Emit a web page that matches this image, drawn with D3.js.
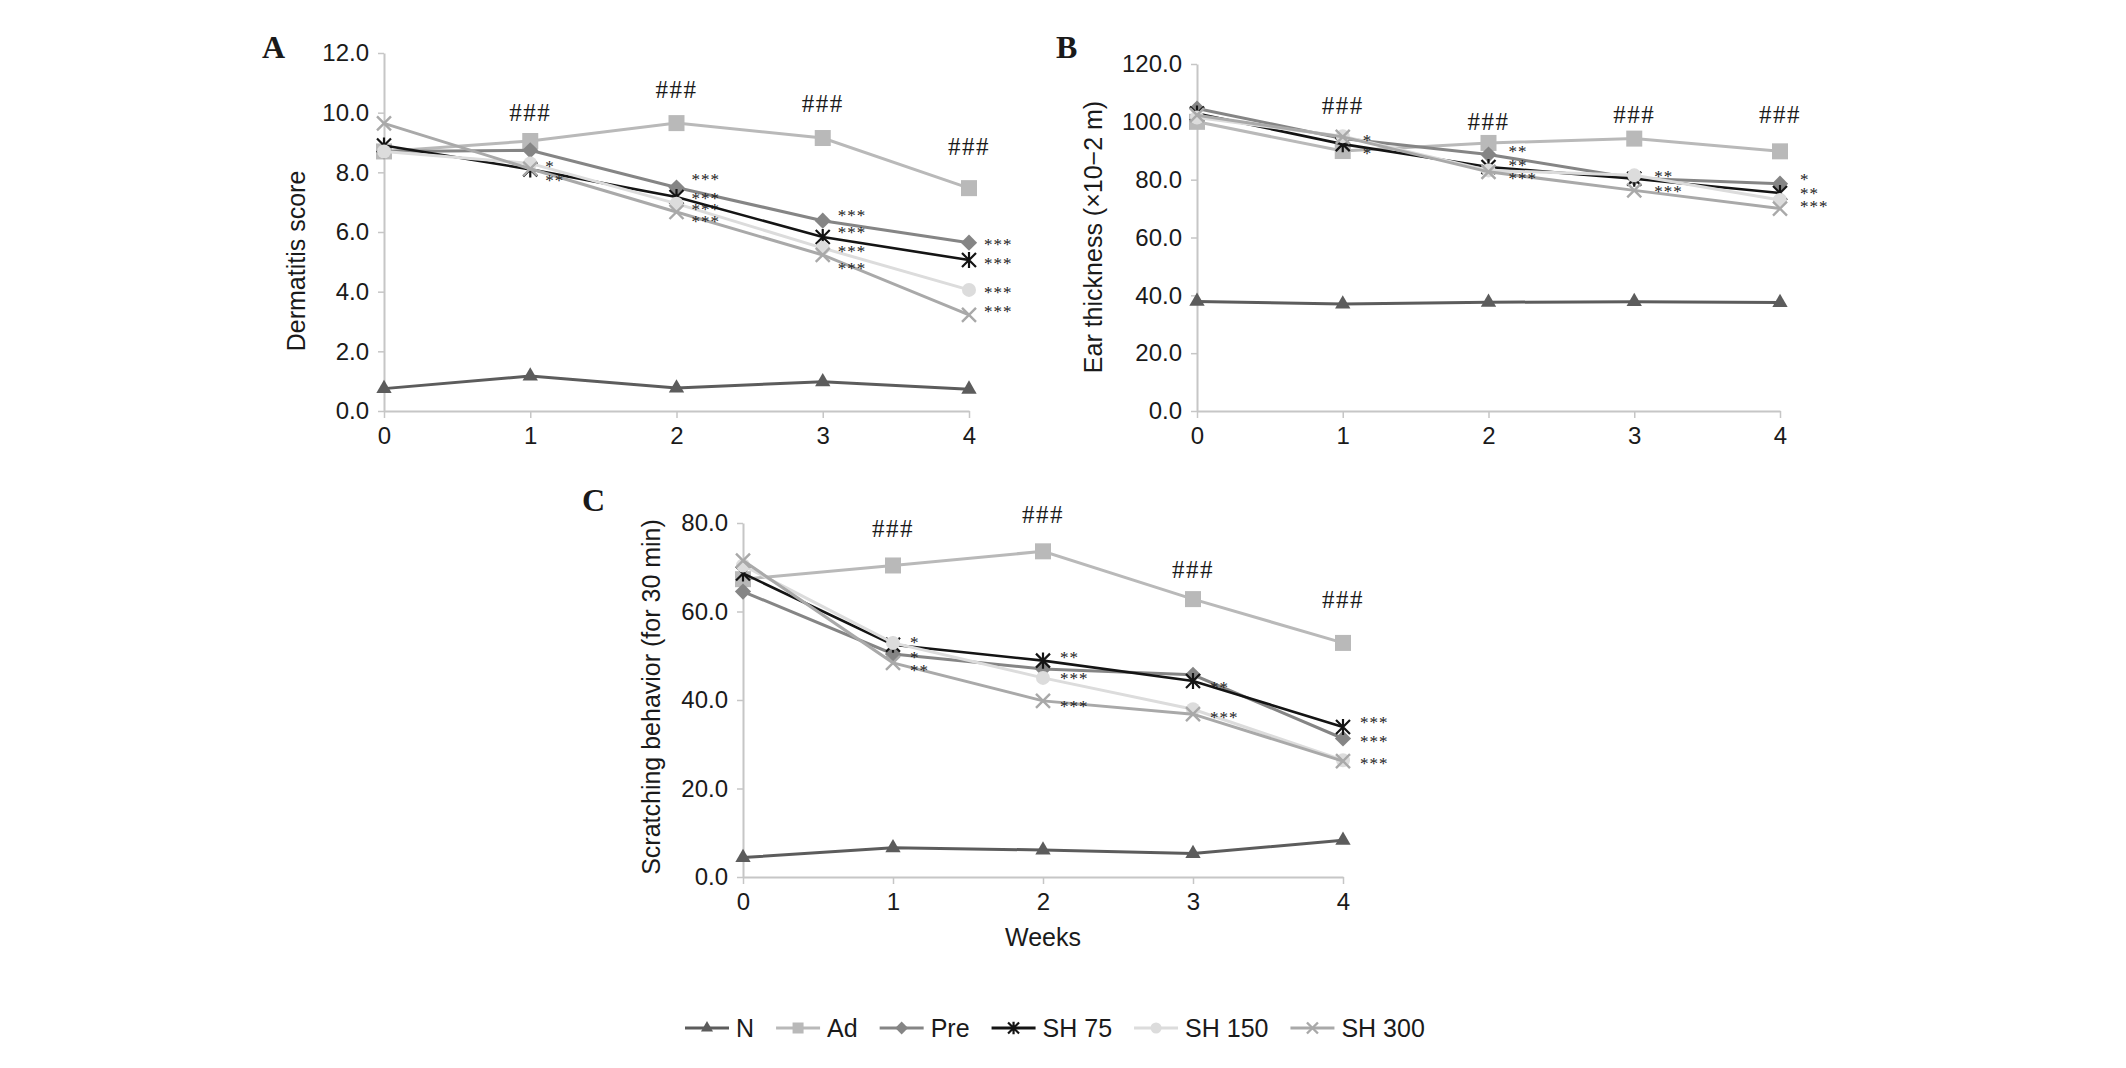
<!DOCTYPE html>
<html>
<head>
<meta charset="utf-8">
<script src="https://cdn.jsdelivr.net/npm/d3@7"></script>
<style>
  body { margin: 0; background: #fff; }
  text { fill: #1a1a1a; }
</style>
</head>
<body>
<div id="chart"></div>
<script>
// Weeks on the x axis and the six groups
var weeks  = [0, 1, 2, 3, 4];
var groups = ["N", "Ad", "Pre", "SH 75", "SH 150", "SH 300"];

// A - dermatitis score, one row per group
var dermatitis = [
    [0.75, 1.17, 0.77, 0.98, 0.73],
    [8.70, 9.05, 9.65, 9.15, 7.47],
    [8.70, 8.74, 7.49, 6.38, 5.64],
    [8.90, 8.10, 7.17, 5.83, 5.06],
    [8.70, 8.30, 6.95, 5.46, 4.06],
    [9.64, 8.12, 6.67, 5.23, 3.22]
];
// B - ear thickness
var thickness = [
    [37.9, 37.0, 37.6, 37.8, 37.5],
    [100.0, 89.9, 92.7, 94.2, 89.8],
    [104.6, 94.2, 88.7, 80.5, 78.6],
    [102.9, 92.3, 84.4, 80.3, 75.4],
    [101.5, 95.0, 83.2, 81.5, 73.0],
    [102.3, 94.8, 82.7, 76.3, 70.0]
];
// C - scratching behaviour
var scratching = [
    [4.4, 6.6, 6.1, 5.3, 8.3],
    [67.3, 70.4, 73.6, 62.8, 52.9],
    [64.5, 50.4, 47.0, 45.7, 31.3],
    [68.6, 52.5, 48.9, 44.3, 33.9],
    [70.4, 52.9, 45.0, 37.9, 26.4],
    [71.5, 48.4, 39.8, 36.8, 26.2]
];

// Significance marks: [week, value where the label sits, text]
var starsA = [[1, 8.31, "*"], [1, 7.84, "**"],
    [2, 7.85, "***"], [2, 7.24, "***"], [2, 6.85, "***"], [2, 6.46, "***"],
    [3, 6.66, "***"], [3, 6.07, "***"], [3, 5.45, "***"], [3, 4.89, "***"],
    [4, 5.67, "***"], [4, 5.03, "***"], [4, 4.06, "***"], [4, 3.42, "***"]];
var hashA = [[1, 9.99], [2, 10.79], [3, 10.32], [4, 8.85]];

var starsB = [[1, 94.7, "*"], [1, 90.2, "*"],
    [2, 90.9, "**"], [2, 85.8, "**"], [2, 81.6, "***"],
    [3, 82.2, "**"], [3, 77.0, "***"],
    [4, 81.0, "*"], [4, 76.2, "**"], [4, 71.6, "***"]];
var hashB = [[1, 105.5], [2, 100.2], [3, 102.4], [4, 102.4]];

var starsC = [[1, 53.7, "*"], [1, 50.3, "*"], [1, 47.3, "**"],
    [2, 50.3, "**"], [2, 45.6, "***"], [2, 39.1, "***"],
    [3, 43.6, "**"], [3, 36.8, "***"],
    [4, 35.5, "***"], [4, 31.3, "***"], [4, 26.3, "***"]];
var hashC = [[1, 78.7], [2, 81.9], [3, 69.4], [4, 62.8]];

// Look of each group
var colors  = ["#5c5c5c", "#b9b9b9", "#858585", "#141414", "#dcdcdc", "#a9a9a9"];
var markers = ["triangle", "square", "diamond", "asterisk", "circle", "cross"];

var W = 2126, H = 1068;
var svg = d3.select("#chart").append("svg")
    .attr("width", W).attr("height", H)
    .style("font-family", "'Liberation Sans', Arial, sans-serif");
svg.append("rect").attr("width", W).attr("height", H).attr("fill", "#fff");

function drawMarker(g, type, x, y, s, color){
    if(type == "triangle"){
        g.append("path").attr("d", d3.symbol(d3.symbolTriangle, s * s * 0.52)())
            .attr("transform", "translate(" + x + "," + y + ")").attr("fill", color);
    } else if(type == "square"){
        g.append("rect").attr("x", x - s / 2).attr("y", y - s / 2)
            .attr("width", s).attr("height", s).attr("fill", color);
    } else if(type == "diamond"){
        var h = s * 0.58;
        g.append("path").attr("d", "M" + x + "," + (y - h) + "L" + (x + h) + "," + y +
            "L" + x + "," + (y + h) + "L" + (x - h) + "," + y + "Z").attr("fill", color);
    } else if(type == "circle"){
        g.append("circle").attr("cx", x).attr("cy", y).attr("r", s / 2).attr("fill", color);
    } else {
        var r = s / 2;
        var d = "M" + (x - r) + "," + (y - r) + "L" + (x + r) + "," + (y + r) +
                "M" + (x + r) + "," + (y - r) + "L" + (x - r) + "," + (y + r);
        if(type == "asterisk")
            d += "M" + x + "," + (y - r * 1.15) + "L" + x + "," + (y + r * 1.15);
        g.append("path").attr("d", d).attr("stroke", color)
            .attr("stroke-width", type == "asterisk" ? 2.2 : 2.4).attr("fill", "none");
    }
}

function drawPanel(p){
    var g = svg.append("g");
    var x = d3.scaleLinear().domain([0, 4]).range([p.left, p.right]);
    var y = d3.scaleLinear().domain([0, p.yMax]).range([p.bottom, p.top]);

    // Axes
    var yAxis = d3.axisLeft(y)
        .tickValues(d3.range(0, p.yMax + p.yStep / 2, p.yStep))
        .tickFormat(d3.format(".1f")).tickSize(6).tickSizeOuter(0).tickPadding(9);
    var xAxis = d3.axisBottom(x)
        .tickValues(weeks).tickFormat(d3.format("d")).tickSize(7).tickSizeOuter(0).tickPadding(9);
    [g.append("g").attr("transform", "translate(" + p.left + ",0)").call(yAxis),
     g.append("g").attr("transform", "translate(0," + p.bottom + ")").call(xAxis)]
    .forEach(function(a){
        a.select(".domain").attr("stroke", "#c6c6c6").attr("stroke-width", 2);
        a.selectAll(".tick line").attr("stroke", "#c6c6c6").attr("stroke-width", 1.5);
        a.selectAll(".tick text").attr("font-size", 24).attr("fill", "#1a1a1a")
            .attr("font-family", "'Liberation Sans', Arial, sans-serif");
    });

    // Axis titles
    g.append("text")
        .attr("transform", "translate(" + p.titleX + "," + p.titleY + ") rotate(-90)")
        .attr("text-anchor", "middle").attr("dy", "0.35em")
        .attr("font-size", 25).text(p.title);
    if(p.xTitle)
        g.append("text").attr("x", (p.left + p.right) / 2).attr("y", p.bottom + 60)
            .attr("text-anchor", "middle").attr("dy", "0.35em")
            .attr("font-size", 25).text(p.xTitle);

    // Panel letter
    g.append("text").attr("x", p.letterX).attr("y", p.letterY)
        .attr("font-family", "'Liberation Serif', 'Times New Roman', serif")
        .attr("font-weight", "bold").attr("font-size", 32).text(p.letter);

    // Series: line then markers, in legend order
    var line = d3.line().x(function(d, i){ return x(weeks[i]); }).y(function(d){ return y(d); });
    p.data.forEach(function(vals, k){
        var s = g.append("g");
        s.append("path").datum(vals).attr("d", line).attr("fill", "none")
            .attr("stroke", colors[k]).attr("stroke-width", k == 3 ? 2.6 : 3);
        vals.forEach(function(v, i){
            drawMarker(s, markers[k], x(weeks[i]), y(v), k == 1 ? 16 : 14, colors[k]);
        });
    });

    // Significance labels
    g.selectAll(".hash").data(p.hash).enter().append("text")
        .attr("x", function(d){ return x(d[0]); }).attr("y", function(d){ return y(d[1]); })
        .attr("dy", "0.34em").attr("text-anchor", "middle")
        .attr("font-family", "'Liberation Serif', 'Times New Roman', serif")
        .attr("font-size", 25).attr("letter-spacing", 1.5).text("###");
    g.selectAll(".star").data(p.stars).enter().append("text")
        .attr("x", function(d){ return x(d[0]) + p.starDx; }).attr("y", function(d){ return y(d[1]); })
        .attr("dy", "0.5em")
        .attr("font-family", "'Liberation Serif', 'Times New Roman', serif")
        .attr("font-size", 17).attr("letter-spacing", 1).text(function(d){ return d[2]; });
}

drawPanel({ data: dermatitis, yMax: 12, yStep: 2, left: 384, right: 969, top: 53, bottom: 411,
    title: "Dermatitis score", titleX: 296, titleY: 261, letter: "A", letterX: 262, letterY: 58,
    stars: starsA, hash: hashA, starDx: 15 });
drawPanel({ data: thickness, yMax: 120, yStep: 20, left: 1197, right: 1780, top: 64, bottom: 411,
    title: "Ear thickness (\u00d710\u22122 m)", titleX: 1093, titleY: 237, letter: "B", letterX: 1056, letterY: 58,
    stars: starsB, hash: hashB, starDx: 20 });
drawPanel({ data: scratching, yMax: 80, yStep: 20, left: 743, right: 1343, top: 523, bottom: 877,
    title: "Scratching behavior (for 30 min)", titleX: 651, titleY: 697, letter: "C", letterX: 582, letterY: 511,
    stars: starsC, hash: hashC, starDx: 17, xTitle: "Weeks" });

// Legend
var lx = 685, ly = 1028;
var legend = svg.append("g");
groups.forEach(function(name, k){
    legend.append("line").attr("x1", lx).attr("x2", lx + 44).attr("y1", ly).attr("y2", ly)
        .attr("stroke", colors[k]).attr("stroke-width", 3);
    drawMarker(legend, markers[k], lx + 22, ly, 11, colors[k]);
    var t = legend.append("text").attr("x", lx + 51).attr("y", ly).attr("dy", "0.35em")
        .attr("font-size", 25).text(name);
    lx += 51 + t.node().getComputedTextLength() + 22;
});
</script>
</body>
</html>
